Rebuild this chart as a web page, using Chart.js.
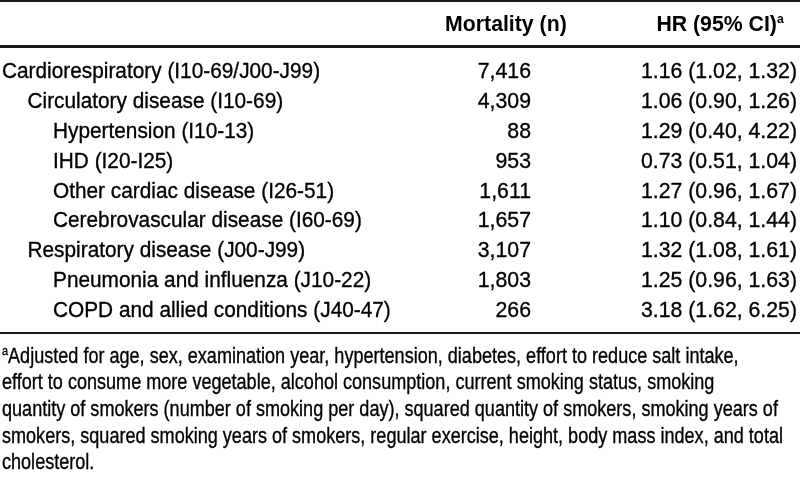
<!DOCTYPE html>
<html>
<head>
<meta charset="utf-8">
<script src="https://cdn.jsdelivr.net/npm/chart.js@4/dist/chart.umd.min.js"></script>
<style>
  html, body { margin: 0; padding: 0; background: #fff; }
  #wrap { position: relative; width: 800px; height: 485px; overflow: hidden; }
  #c { position: absolute; left: 0; top: 0; }
  .rule { position: absolute; left: 0; width: 800px; height: 2px; background: #1a1a1a; }
  .txt { position: absolute; font-family: "Liberation Sans", Arial, sans-serif; font-size: 22.5px;
         line-height: 26.67px; color: #000; white-space: nowrap; }
  .hdr { font-weight: bold; transform-origin: right top; transform: scaleX(0.945); }
  .fn { left: 2px; transform-origin: left top; font-size: 21.5px; transform: scaleX(0.84);
        -webkit-text-stroke: 0.35px #000; }
  .sup { font-size: 13px; position: relative; top: -8px; }
</style>
</head>
<body>
<div id="wrap">
  <canvas id="c" width="800" height="485"></canvas>
  <div class="rule" style="top:0px"></div>
  <div class="rule" style="top:45px;height:2.5px"></div>
  <div class="rule" style="top:332px"></div>
  <div class="txt hdr" id="h1" style="right:233px; top:10.9px">Mortality (n)</div>
  <div class="txt hdr" id="h2" style="right:16px; top:10.9px">HR (95% CI)<span class="sup">a</span></div>
  <div class="txt fn" style="top:342.5px"><span class="sup">a</span>Adjusted for age, sex, examination year, hypertension, diabetes, effort to reduce salt intake,</div>
  <div class="txt fn" style="top:369.2px">effort to consume more vegetable, alcohol consumption, current smoking status, smoking</div>
  <div class="txt fn" style="top:395.9px">quantity of smokers (number of smoking per day), squared quantity of smokers, smoking years of</div>
  <div class="txt fn" style="top:422.5px">smokers, squared smoking years of smokers, regular exercise, height, body mass index, and total</div>
  <div class="txt fn" style="top:449.2px">cholesterol.</div>
</div>
<script>
const rowLabels = [
  "Cardiorespiratory (I10-69/J00-J99)",
  "Circulatory disease (I10-69)",
  "Hypertension (I10-13)",
  "IHD (I20-I25)",
  "Other cardiac disease (I26-51)",
  "Cerebrovascular disease (I60-69)",
  "Respiratory disease (J00-J99)",
  "Pneumonia and influenza (J10-22)",
  "COPD and allied conditions (J40-47)"
];
const indentLevel = [0, 1, 2, 2, 2, 2, 1, 2, 2];
const mortality = [7416, 4309, 88, 953, 1611, 1657, 3107, 1803, 266];
const hr = [1.16, 1.06, 1.29, 0.73, 1.27, 1.10, 1.32, 1.25, 3.18];
const ciLow = [1.02, 0.90, 0.40, 0.51, 0.96, 0.84, 1.08, 0.96, 1.62];
const ciHigh = [1.32, 1.26, 4.22, 1.04, 1.67, 1.44, 1.61, 1.63, 6.25];

const SX_LABEL = 0.925;
const SX_NUM = 0.945;
const FONT = '22.5px "Liberation Sans", Arial, sans-serif';

function drawScaled(ctx, text, x, y, sx, align) {
  ctx.save();
  ctx.textAlign = align;
  ctx.translate(x, y);
  ctx.scale(sx, 1);
  ctx.fillText(text, 0, 0);
  ctx.strokeText(text, 0, 0);
  ctx.restore();
}

const tablePlugin = {
  id: 'tableText',
  afterDraw(chart) {
    const ctx = chart.ctx;
    const y = chart.scales.y;
    const mort = chart.data.datasets[0].data;
    const hrs = chart.data.datasets[1].data;
    ctx.save();
    ctx.font = FONT;
    ctx.fillStyle = '#000';
    ctx.strokeStyle = '#000';
    ctx.lineWidth = 0.35;
    ctx.textBaseline = 'alphabetic';
    chart.data.labels.forEach((lab, i) => {
      const py = y.getPixelForValue(i) + 8;
      drawScaled(ctx, lab, 2 + indentLevel[i] * 25.5, py, SX_LABEL, 'left');
      drawScaled(ctx, mort[i].toLocaleString('en-US'), 531, py, SX_NUM, 'right');
      drawScaled(ctx, hrs[i].toFixed(2) + ' (' + ciLow[i].toFixed(2) + ', ' + ciHigh[i].toFixed(2) + ')', 797, py, SX_NUM, 'right');
    });
    ctx.restore();
  }
};

new Chart(document.getElementById('c'), {
  type: 'bar',
  data: {
    labels: rowLabels,
    datasets: [
      { label: 'Mortality (n)', data: mortality, backgroundColor: 'rgba(0,0,0,0)', borderWidth: 0 },
      { label: 'HR', data: hr, backgroundColor: 'rgba(0,0,0,0)', borderWidth: 0 }
    ]
  },
  options: {
    indexAxis: 'y',
    responsive: false,
    animation: false,
    events: [],
    layout: { padding: { top: 55.4, bottom: 161.4, left: 0, right: 0 } },
    plugins: { legend: { display: false }, tooltip: { enabled: false } },
    scales: {
      y: { type: 'category', display: false, offset: true },
      x: { display: false }
    }
  },
  plugins: [tablePlugin]
});
</script>
</body>
</html>
